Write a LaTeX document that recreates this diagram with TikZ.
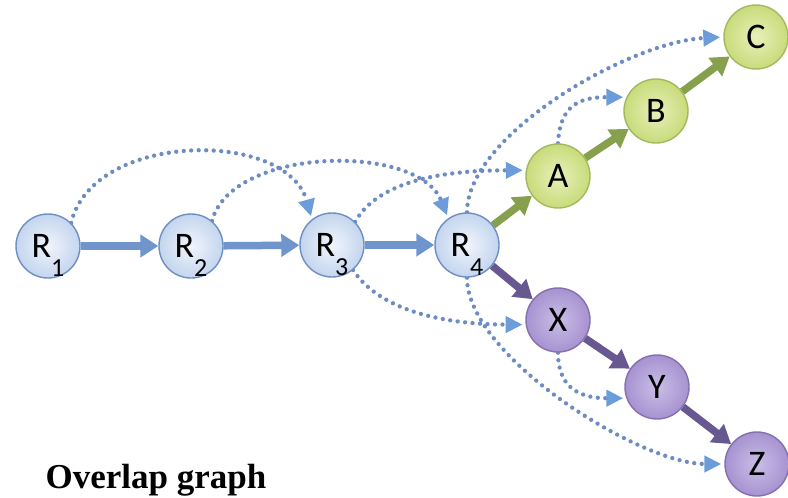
\documentclass[tikz,border=0pt]{standalone}
\usepackage{fontspec}
\setmainfont{Carlito}
\newfontfamily\titlefont{Liberation Serif}
\usetikzlibrary{arrows.meta,backgrounds}
\definecolor{binner}{HTML}{F1F5FC}
\definecolor{bouter}{HTML}{C3D5EE}
\definecolor{bborder}{HTML}{6E8FC4}
\definecolor{ginner}{HTML}{E8F0BA}
\definecolor{gouter}{HTML}{C8DB7A}
\definecolor{gborder}{HTML}{A2BA5E}
\definecolor{pinner}{HTML}{CBBDE7}
\definecolor{pouter}{HTML}{A692D0}
\definecolor{pborder}{HTML}{8470B0}
\definecolor{bluearr}{HTML}{6F95CC}
\definecolor{greenarr}{HTML}{87A04E}
\definecolor{purparr}{HTML}{685892}
\definecolor{dotcol}{HTML}{6D8CC2}
\definecolor{dothead}{HTML}{6C9CDA}
\newcommand{\rsub}[1]{\smash{\raisebox{-19pt}{\fontsize{26}{26}\selectfont #1}}}
\tikzset{
  basenode/.style={circle, minimum size=64pt, inner sep=0pt, line width=1.4pt,
    font=\fontsize{36}{36}\selectfont},
  rnode/.style={basenode, draw=bborder, inner color=binner, outer color=bouter},
  gnode/.style={basenode, draw=gborder, inner color=ginner, outer color=gouter},
  pnode/.style={basenode, draw=pborder, inner color=pinner, outer color=pouter},
  thickarr/.style={line width=7.5pt, -{Triangle[length=18pt,width=22pt]}},
  bluesolid/.style={thickarr, draw=bluearr},
  greensolid/.style={thickarr, draw=greenarr},
  purpsolid/.style={thickarr, draw=purparr},
  dotarr/.style={draw=dotcol, line width=4.3pt, line cap=round, dash pattern=on 0pt off 7.5pt,
    -{Triangle[length=17pt,width=16pt,color=dothead]}, shorten >=3pt}
}
\begin{document}
\begin{tikzpicture}[x=1pt,y=-1pt]
\useasboundingbox (0,0) rectangle (788,498);
\begin{scope}[on background layer]
  \fill[white] (0,0) rectangle (788,498);
\end{scope}
% nodes
\node[rnode] (R1) at (48,246) {R\rsub{1}};
\node[rnode] (R2) at (191,246) {R\rsub{2}};
\node[rnode] (R3) at (332,245) {R\rsub{3}};
\node[rnode] (R4) at (467,245) {R\rsub{4}};
\node[gnode] (A) at (558,176) {A};
\node[gnode] (B) at (656,111) {B};
\node[gnode] (C) at (756,37) {C};
\node[pnode] (X) at (558,320) {X};
\node[pnode] (Y) at (657,387) {Y};
\node[pnode] (Z) at (757,464) {Z};
\node[anchor=base west, font=\titlefont\bfseries\fontsize{35}{35}\selectfont] (title) at (42,488) {Overlap graph};
\begin{scope}[on background layer]
  % dotted arcs
  \draw[dotarr] (R1.45) .. controls +(22,-92) and +(-25,-90) .. (R3.128);
  \draw[dotarr] (R2.50) .. controls +(20,-75) and +(-30,-75) .. (R4.125);
  \draw[dotarr] (R3.45) .. controls +(25,-45) and +(-70,0) .. (A.170);
  \draw[dotarr] (R4.90) .. controls +(0,-77) and +(-95,5) .. (C.180);
  \draw[dotarr] (A.90) .. controls +(2,-40) and +(-45,0) .. (B.155);
  \draw[dotarr] (R3.-50) .. controls +(30,45) and +(-70,0) .. (X.188);
  \draw[dotarr] (R4.270) .. controls +(0,78) and +(-85,0) .. (Z.180);
  \draw[dotarr] (X.270) .. controls +(0,40) and +(-40,0) .. (Y.200);
  % solid arrows
  \draw[bluesolid] (R1) -- (R2);
  \draw[bluesolid] (R2) -- (R3);
  \draw[bluesolid] (R3) -- (R4);
  \draw[greensolid] (R4) -- (A);
  \draw[greensolid] (A) -- (B);
  \draw[greensolid] (B) -- (C);
  \draw[purpsolid] (R4) -- (X);
  \draw[purpsolid] (X) -- (Y);
  \draw[purpsolid] (Y) -- (Z);
\end{scope}
\end{tikzpicture}
\end{document}
